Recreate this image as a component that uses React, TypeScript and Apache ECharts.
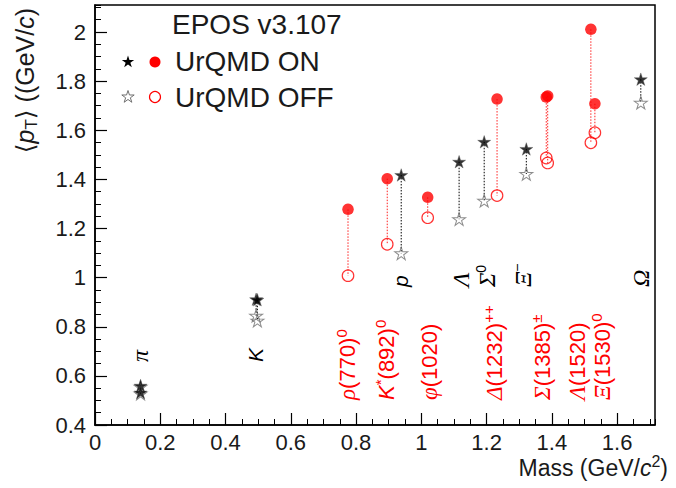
import React, { useEffect, useRef } from 'react';
import * as echarts from 'echarts';

// ---------- data ----------
// stable hadrons (stars): pi, pi, K, K, p, Lambda, Sigma0, Xi-, Omega
const hadronNames = ['π⁺', 'π⁰', 'K⁺', 'K⁰', 'p', 'Λ', 'Σ⁰', 'Ξ⁻', 'Ω'];
const hadronMass = [0.1396, 0.1396, 0.4937, 0.4976, 0.9383, 1.1157, 1.1926, 1.3217, 1.6725];
const hadronOn = [0.56, 0.532, 0.912, 0.91, 1.418, 1.472, 1.553, 1.524, 1.808];
const hadronOff = [0.556, 0.528, 0.845, 0.825, 1.099, 1.238, 1.313, 1.422, 1.712];

// resonances (circles)
const resonanceNames = ['ρ(770)⁰', 'K*(892)⁰', 'φ(1020)', 'Δ(1232)⁺⁺', 'Σ(1385)⁺', 'Σ(1385)⁻', 'Λ(1520)', 'Ξ(1530)⁰'];
const resonanceMass = [0.7753, 0.8955, 1.0195, 1.232, 1.3828, 1.3872, 1.5195, 1.5318];
const resonanceOn = [1.278, 1.403, 1.327, 1.727, 1.735, 1.74, 2.011, 1.708];
const resonanceOff = [1.008, 1.136, 1.244, 1.334, 1.487, 1.467, 1.549, 1.59];

// axes
const xRange = [0, 1.716];
const yRange = [0.4, 2.11];
const majorStep = 0.2;
const minorStep = 0.05;

// particle labels (rich text) and their anchor in data units (start of rotated text)
const hadronLabelTexts = ['{g|π}', '{i|K}', '{i|p}', '{g|Λ}', '{g|Σ}{sup|0}', '{g|Ξ}{sup|−}', '{g|Ω}'];
const hadronLabelAt = [
  [0.138, 0.6565], [0.493, 0.6565], [0.935, 0.962], [1.12, 0.962], [1.202, 0.962], [1.311, 0.962], [1.672, 0.962],
];
const resonanceLabelTexts = [
  '{g|ρ}{n|(770)}{sup|0}', '{i|K}{sup|*}{n|(892)}{sup|0}', '{g|φ}{n|(1020)}', '{g|Δ}{n|(1232)}{sup|++}',
  '{g|Σ}{n|(1385)}{sup|±}', '{g|Λ}{n|(1520)}', '{g|Ξ}{n|(1530)}{sup|0}',
];
const resonanceLabelAt = [
  [0.775, 0.502], [0.892, 0.502], [1.025, 0.502], [1.2245, 0.502], [1.372, 0.502], [1.479, 0.502], [1.556, 0.502],
];

const FONT = 'Liberation Sans';
const GREEK = 'Liberation Serif';
const STAR = 'path://M50,0L61.2,34.5L97.6,34.5L68.2,55.9L79.4,90.5L50,69.1L20.6,90.5L31.8,55.9L2.4,34.5L38.8,34.5Z';

function starPoints(cx: number, cy: number, R: number) {
  const pts: number[][] = [];
  for (let k = 0; k < 10; k++) {
    const r = k % 2 === 0 ? R : R * 0.382;
    const a = -Math.PI / 2 + (k * Math.PI) / 5;
    pts.push([cx + r * Math.cos(a), cy + r * Math.sin(a)]);
  }
  return pts;
}

function richFor(color: string, size: number, greekSize?: number) {
  const supSize = Math.round(size * 0.68);
  return {
    n: { fontFamily: FONT, fontSize: size, fill: color, lineHeight: size + 4 },
    i: { fontFamily: FONT, fontStyle: 'italic', fontSize: size, fill: color, lineHeight: size + 4 },
    g: { fontFamily: GREEK, fontStyle: 'italic', fontSize: greekSize || size + 1, fill: color, lineHeight: size + 4 },
    sup: { fontFamily: FONT, fontSize: supSize, fill: color, lineHeight: supSize, padding: [0, 0, Math.round(size * 0.55), 0] },
    sub: { fontFamily: FONT, fontSize: supSize, fill: color, lineHeight: supSize, padding: [Math.round(size * 0.5), 0, 0, 0] },
  };
}

function lineSeries(name: string, mass: number[], on: number[], off: number[], color: string) {
  return {
    type: 'custom',
    name,
    xAxisIndex: 0,
    yAxisIndex: 0,
    z: 1,
    silent: true,
    data: mass.map((m, i) => [m, on[i], off[i]]),
    renderItem: (params: any, api: any) => {
      const a = api.coord([api.value(0), api.value(1)]);
      const b = api.coord([api.value(0), api.value(2)]);
      return {
        type: 'line',
        shape: { x1: a[0], y1: a[1], x2: b[0], y2: b[1] },
        style: { stroke: color, lineWidth: 1, lineDash: [1.5, 1.5] },
      };
    },
  };
}

export default function App() {
  const ref = useRef<HTMLDivElement>(null);

  useEffect(() => {
    if (!ref.current) return;
    const chart = echarts.init(ref.current, null, { renderer: 'svg' });

    const axisBase = (range: number[]) => ({ type: 'value', min: range[0], max: range[1], splitLine: { show: false } });

    chart.setOption({
      animation: false,
      backgroundColor: '#ffffff',
      grid: {
        left: 95, right: 21, top: 5, bottom: 63, show: true, borderColor: '#000', borderWidth: 1.5,
        containLabel: false, outerBoundsMode: 'none',
      },
      xAxis: [
        {
          ...axisBase(xRange), interval: majorStep, position: 'bottom',
          axisLine: { onZero: false, lineStyle: { color: '#000', width: 1.5 } },
          axisTick: { inside: true, length: 12, lineStyle: { color: '#000', width: 1.2 } },
          axisLabel: { color: '#1a1a1a', fontSize: 22, fontFamily: FONT, margin: 6, showMaxLabel: false },
        },
        {
          ...axisBase(xRange), interval: minorStep, position: 'bottom',
          axisLine: { show: false },
          axisTick: { inside: true, length: 6, lineStyle: { color: '#000', width: 1 } },
          axisLabel: { show: false },
        },
      ],
      yAxis: [
        {
          ...axisBase(yRange), interval: majorStep, position: 'left',
          axisLine: { onZero: false, lineStyle: { color: '#000', width: 1.5 } },
          axisTick: { inside: true, length: 12, lineStyle: { color: '#000', width: 1.2 } },
          axisLabel: { color: '#1a1a1a', fontSize: 22, fontFamily: FONT, margin: 9, showMaxLabel: false },
        },
        {
          ...axisBase(yRange), interval: minorStep, position: 'left',
          axisLine: { show: false },
          axisTick: { inside: true, length: 6, lineStyle: { color: '#000', width: 1 } },
          axisLabel: { show: false },
        },
      ],
      series: [
        lineSeries('hadron lines', hadronMass, hadronOn, hadronOff, '#000'),
        lineSeries('resonance lines', resonanceMass, resonanceOn, resonanceOff, '#ff2020'),
        {
          type: 'scatter', name: 'UrQMD OFF hadrons', xAxisIndex: 0, yAxisIndex: 0, z: 2, silent: true,
          symbol: STAR, symbolSize: [13, 12.5],
          itemStyle: { color: 'rgba(255,255,255,0)', borderColor: '#707070', borderWidth: 1 },
          data: hadronMass.map((m, i) => [m, hadronOff[i]]),
        },
        {
          type: 'scatter', name: 'UrQMD OFF resonances', xAxisIndex: 0, yAxisIndex: 0, z: 2, silent: true,
          symbol: 'circle', symbolSize: 11.5,
          itemStyle: { color: 'rgba(255,255,255,0)', borderColor: '#ff0000', borderWidth: 1.2 },
          data: resonanceMass.map((m, i) => [m, resonanceOff[i]]),
        },
        {
          type: 'scatter', name: 'UrQMD ON hadrons', xAxisIndex: 0, yAxisIndex: 0, z: 3, silent: true,
          symbol: STAR, symbolSize: [13, 12.5],
          itemStyle: { color: '#000', borderColor: '#555', borderWidth: 0.5 },
          data: hadronMass.map((m, i) => [m, hadronOn[i]]),
        },
        {
          type: 'scatter', name: 'UrQMD ON resonances', xAxisIndex: 0, yAxisIndex: 0, z: 3, silent: true,
          symbol: 'circle', symbolSize: 11.5,
          itemStyle: { color: '#ff0000' },
          data: resonanceMass.map((m, i) => [m, resonanceOn[i]]),
        },
      ],
    });

    const toPx = (p: number[]) => chart.convertToPixel({ xAxisIndex: 0, yAxisIndex: 0 } as any, p) as number[];

    const rotated = (text: string, at: number[], color: string, size: number, greekSize?: number) => {
      const p = toPx(at);
      return {
        type: 'text', x: p[0], y: p[1], rotation: Math.PI / 2, silent: true, z: 10,
        style: { text, rich: richFor(color, size, greekSize), fill: color, fontSize: size, fontFamily: FONT, align: 'left', verticalAlign: 'middle' },
      };
    };

    const graphics: any[] = [];
    hadronLabelTexts.forEach((t, i) => graphics.push(rotated(t, hadronLabelAt[i], '#000', 21, 24)));
    resonanceLabelTexts.forEach((t, i) => graphics.push(rotated(t, resonanceLabelAt[i], '#ff0000', 22)));

    // y-axis title
    graphics.push({
      type: 'text', x: 25, y: 8, rotation: Math.PI / 2, silent: true,
      style: {
        text: '{b|⟨}{i|p}{sub|T}{b|⟩}{n| ((GeV/}{i|c}{n|)}',
        rich: { ...richFor('#1a1a1a', 25), b: { fontFamily: 'DejaVu Sans', fontSize: 25, fill: '#1a1a1a', lineHeight: 29 } },
        fill: '#1a1a1a', fontSize: 25, fontFamily: FONT, align: 'right', verticalAlign: 'middle',
      },
    });
    // x-axis title
    graphics.push({
      type: 'text', x: 668, y: 468, silent: true,
      style: {
        text: '{n|Mass (GeV/}{i|c}{sup|2}{n|)}', rich: richFor('#1a1a1a', 23),
        fill: '#1a1a1a', fontSize: 23, fontFamily: FONT, align: 'right', verticalAlign: 'middle',
      },
    });
    // legend
    graphics.push({
      type: 'text', x: 172, y: 24, silent: true,
      style: { text: 'EPOS v3.107', fill: '#1a1a1a', fontSize: 28, fontFamily: FONT, align: 'left', verticalAlign: 'middle' },
    });
    graphics.push({ type: 'polygon', silent: true, shape: { points: starPoints(128, 62, 6.5) }, style: { fill: '#000' } });
    graphics.push({ type: 'circle', silent: true, shape: { cx: 155, cy: 62, r: 5.5 }, style: { fill: '#ff0000' } });
    graphics.push({
      type: 'text', x: 175, y: 61, silent: true,
      style: { text: 'UrQMD ON', fill: '#1a1a1a', fontSize: 28, fontFamily: FONT, align: 'left', verticalAlign: 'middle' },
    });
    graphics.push({ type: 'polygon', silent: true, shape: { points: starPoints(128, 97, 6.5) }, style: { fill: 'none', stroke: '#707070', lineWidth: 1 } });
    graphics.push({ type: 'circle', silent: true, shape: { cx: 155, cy: 97, r: 5.5 }, style: { fill: 'none', stroke: '#ff0000', lineWidth: 1.2 } });
    graphics.push({
      type: 'text', x: 175, y: 97, silent: true,
      style: { text: 'UrQMD OFF', fill: '#1a1a1a', fontSize: 28, fontFamily: FONT, align: 'left', verticalAlign: 'middle' },
    });

    chart.setOption({ graphic: graphics });

    return () => chart.dispose();
  }, []);

  return <div ref={ref} style={{ position: 'fixed', left: 0, top: 0, width: 676, height: 488, background: '#fff' }} />;
}
